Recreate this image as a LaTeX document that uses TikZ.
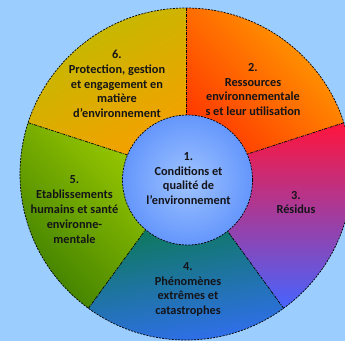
\documentclass[tikz,border=0pt]{standalone}
\usepackage{fontspec}
\newfontfamily\carlito{Carlito}
\definecolor{bgblue}{RGB}{155,205,255}
\definecolor{textdark}{RGB}{20,20,25}
% sector gradients
\definecolor{sixA}{RGB}{190,188,0}
\definecolor{sixB}{RGB}{250,158,0}
\definecolor{twoA}{RGB}{255,162,0}
\definecolor{twoB}{RGB}{255,50,0}
\definecolor{threeA}{RGB}{255,20,60}
\definecolor{threeM}{RGB}{210,60,170}
\definecolor{threeB}{RGB}{70,100,255}
\definecolor{fourA}{RGB}{0,125,35}
\definecolor{fourB}{RGB}{50,110,245}
\definecolor{fiveA}{RGB}{165,210,0}
\definecolor{fiveB}{RGB}{60,125,0}
\definecolor{coreIn}{RGB}{160,196,255}
\definecolor{coreOut}{RGB}{100,150,252}
\begin{document}
\begin{tikzpicture}[x=1pt,y=1pt,
  lbl/.style={font=\carlito\bfseries\fontsize{12.3}{14.8}\selectfont, align=center, text=textdark, inner sep=0pt},
  divider/.style={draw=black, line width=0.7pt, dash pattern=on 3pt off 1pt on 1pt off 1pt},
  rim/.style={draw=black, line width=0.7pt, dash pattern=on 2pt off 1.2pt},
]
\fill[bgblue] (0,0) rectangle (345,341);
\useasboundingbox (0,0) rectangle (345,341);
\coordinate (O) at (186,167);
\def\R{166}

% ring sectors
\shade[left color=sixA, right color=sixB, shading angle=30]
  (O) -- ++(90:\R) arc[start angle=90, end angle=162, radius=\R] -- cycle;
\shade[left color=twoA, right color=twoB, shading angle=-45]
  (O) -- ++(18:\R) arc[start angle=18, end angle=90, radius=\R] -- cycle;
\shade[top color=threeA, middle color=threeM, bottom color=threeB]
  (O) -- ++(-54:\R) arc[start angle=-54, end angle=18, radius=\R] -- cycle;
\shade[left color=fourA, right color=fourB, shading angle=10]
  (O) -- ++(-126:\R) arc[start angle=-126, end angle=-54, radius=\R] -- cycle;
\shade[left color=fiveA, right color=fiveB, shading angle=-45]
  (O) -- ++(162:\R) arc[start angle=162, end angle=234, radius=\R] -- cycle;

% dividers and outer rim
\foreach \a in {90,18,-54,-126,162}
  \draw[divider] ([shift={(\a:55)}]O) -- ([shift={(\a:\R)}]O);
\draw[rim] (O) circle[radius=\R];

% central disc
\node[circle, minimum size=130pt, inner sep=0pt, inner color=coreIn, outer color=coreOut,
      draw=black, line width=0.7pt, dash pattern=on 2pt off 1.2pt] (core) at (187.5,161) {};
\node[lbl] (t1) at (188.5,162.5) {1.\\Conditions et\\qualité de\\l’environnement};

% sector labels
\node[lbl] (t6) at (117,257) {6.\\Protection, gestion\\et engagement en\\matière\\d’environnement};
\node[lbl] (t2) at (253,251.5) {2.\\Ressources\\environnementale\\s et leur utilisation};
\node[lbl] (t3) at (296,138.5) {3.\\Résidus};
\node[lbl] (t4) at (188,51.5) {4.\\Phénomènes\\extrêmes et\\catastrophes};
\node[lbl] (t5) at (74.5,131.5) {5.\\Etablissements\\humains et santé\\environne-\\mentale};
\end{tikzpicture}
\end{document}
